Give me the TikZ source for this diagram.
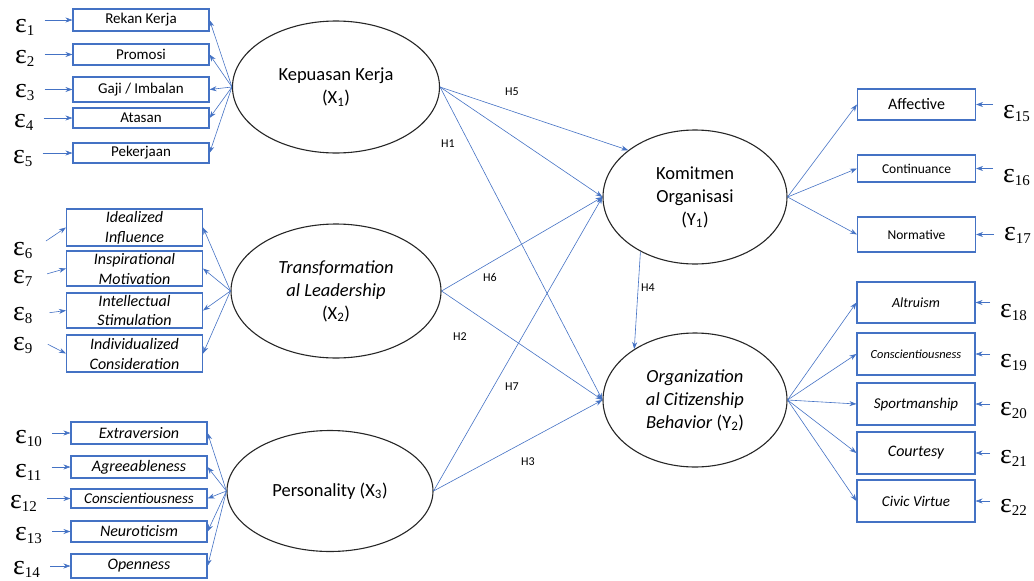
\documentclass[tikz,border=0pt]{standalone}
\usepackage{fontspec}
\setmainfont{Carlito}
\newfontfamily\epsfont{Liberation Serif}
\usetikzlibrary{arrows.meta,positioning,shapes}
\definecolor{lineblue}{HTML}{4472C4}
\newcommand{\err}[1]{{\epsfont\fontsize{28}{28}\selectfont ε\raisebox{-3pt}{\fontsize{15}{15}\selectfont #1}}}

\begin{document}
\begin{tikzpicture}
[->, >={Stealth[length=7pt,width=5pt]}, x=1pt, y=-1pt,
every edge/.style={draw=lineblue, line width=0.6pt},
latent/.style={ellipse, draw=black!85, line width=1.1pt, inner sep=0pt, align=center, font=\fontsize{18.5}{23}\selectfont},
indicator/.style={rectangle, draw=lineblue, line width=1.1pt, inner sep=0pt, align=center, font=\fontsize{15}{19.5}\selectfont},
leftbox/.style={indicator, minimum width=136pt},
rightbox/.style={indicator, minimum width=118pt},
error/.style={inner sep=0pt, anchor=base west},
errarrow/.style={shorten <=10pt},
hlabel/.style={font=\fontsize{12}{12}\selectfont}
]
  \useasboundingbox (0,0) rectangle (1034,581);

  % latent variables
  \node[latent, minimum width=207pt, minimum height=132pt] (x1) at (336,87) {Kepuasan Kerja\\(X\textsubscript{1})};
  \node[latent, minimum width=210pt, minimum height=134pt] (x2) at (336,291) {\textit{Transformation}\\\textit{al Leadership}\\(X\textsubscript{2})};
  \node[latent, minimum width=206pt, minimum height=121pt] (x3) at (330,491) {Personality (X\textsubscript{3})};
  \node[latent, minimum width=184pt, minimum height=134pt] (y1) at (695,197) {Komitmen\\Organisasi\\(Y\textsubscript{1})};
  \node[latent, minimum width=184pt, minimum height=134pt] (y2) at (695,400) {\textit{Organization}\\\textit{al Citizenship}\\\textit{Behavior} (Y\textsubscript{2})};

  % indicators
  \node[leftbox, minimum height=22pt] (i1) at (141,20)   {Rekan Kerja};
  \node[leftbox, minimum height=21pt] (i2) at (141,54.5) {Promosi};
  \node[leftbox, minimum height=25pt] (i3) at (141,89.5) {Gaji / Imbalan};
  \node[leftbox, minimum height=20pt] (i4) at (141,118)  {Atasan};
  \node[leftbox, minimum height=20pt] (i5) at (141,153)  {Pekerjaan};

  \node[leftbox, minimum height=37pt, font=\fontsize{16}{20}\itshape] (i6) at (134.5,227.5) {Idealized\\Influence};
  \node[leftbox, minimum height=35pt, font=\fontsize{16}{20}\itshape] (i7) at (134.5,268.5) {Inspirational\\Motivation};
  \node[leftbox, minimum height=35pt, font=\fontsize{16}{20}\itshape] (i8) at (134.5,310.5) {Intellectual\\Stimulation};
  \node[leftbox, minimum height=37pt, font=\fontsize{16}{20}\itshape] (i9) at (134.5,353.5) {Individualized\\Consideration};

  \node[leftbox, minimum height=22pt, font=\fontsize{16}{19}\itshape] (i10) at (139,433)   {Extraversion};
  \node[leftbox, minimum height=22pt, font=\fontsize{16}{19}\itshape] (i11) at (139,467)   {Agreeableness};
  \node[leftbox, minimum height=19pt, font=\fontsize{15}{19}\itshape] (i12) at (139,498.5) {Conscientiousness};
  \node[leftbox, minimum height=21pt, font=\fontsize{16}{19}\itshape] (i13) at (139,531.5) {Neuroticism};
  \node[leftbox, minimum height=24pt, font=\fontsize{16}{19}\itshape] (i14) at (139,566)   {Openness};

  \node[rightbox, minimum height=31pt, font=\fontsize{16}{19}\selectfont] (i15) at (916.5,104.5) {Affective};
  \node[rightbox, minimum height=27pt, font=\fontsize{13.5}{19}\selectfont] (i16) at (916.5,168.5) {Continuance};
  \node[rightbox, minimum height=35pt, font=\fontsize{13.5}{19}\selectfont] (i17) at (916.5,234.5) {Normative};

  \node[rightbox, minimum height=41pt, font=\fontsize{14}{19}\itshape] (i18) at (916,302.5) {Altruism};
  \node[rightbox, minimum height=42pt, font=\fontsize{12.4}{19}\itshape] (i19) at (916,354) {Conscientiousness};
  \node[rightbox, minimum height=42pt, font=\fontsize{15}{19}\itshape] (i20) at (916,404) {Sportmanship};
  \node[rightbox, minimum height=42pt, font=\fontsize{16}{19}\itshape] (i21) at (916,453) {Courtesy};
  \node[rightbox, minimum height=42pt, font=\fontsize{15}{19}\itshape] (i22) at (916,501) {Civic Virtue};

  % error terms
  \node[error] (e1)  at (15,32)  {\err{1}};
  \node[error] (e2)  at (15,63)  {\err{2}};
  \node[error] (e3)  at (15,97)  {\err{3}};
  \node[error] (e4)  at (14,127) {\err{4}};
  \node[error] (e5)  at (13,163) {\err{5}};
  \node[error] (e6)  at (13,255) {\err{6}};
  \node[error] (e7)  at (13,283) {\err{7}};
  \node[error] (e8)  at (13,320) {\err{8}};
  \node[error] (e9)  at (13,350) {\err{9}};
  \node[error] (e10) at (15,443) {\err{10}};
  \node[error] (e11) at (15,477) {\err{11}};
  \node[error] (e12) at (10,508) {\err{12}};
  \node[error] (e13) at (15,540) {\err{13}};
  \node[error] (e14) at (13,574) {\err{14}};
  \node[error] (e15) at (1003,118) {\err{15}};
  \node[error] (e16) at (1003,182) {\err{16}};
  \node[error] (e17) at (1004,240) {\err{17}};
  \node[error] (e18) at (1000,317) {\err{18}};
  \node[error] (e19) at (1000,367) {\err{19}};
  \node[error] (e20) at (1000,415) {\err{20}};
  \node[error] (e21) at (1000,463) {\err{21}};
  \node[error] (e22) at (1000,512) {\err{22}};

  % hypothesis labels
  \node[hlabel] (h1) at (448,144) {H1};
  \node[hlabel] (h2) at (460,337) {H2};
  \node[hlabel] (h3) at (528,462) {H3};
  \node[hlabel] (h4) at (648,288) {H4};
  \node[hlabel] (h5) at (512,92)  {H5};
  \node[hlabel] (h6) at (490,277) {H6};
  \node[hlabel] (h7) at (512,387) {H7};

  % structural paths
  \path (x1.east) edge (y1.145)
        (x1.east) edge (y1.west)
        (x1.east) edge (y2.west)
        (x2.east) edge (y1.west)
        (x2.east) edge (y2.west)
        (x3.east) edge (y1.west)
        (x3.east) edge (y2.west)
        (y1.225)  edge (y2.140);

  % loadings
  \path (x1.west) edge (i1.east)
        (x1.west) edge (i2.east)
        (x1.west) edge (i3.east)
        (x1.west) edge (i4.east)
        (x1.west) edge (i5.east)
        (x2.west) edge (i6.east)
        (x2.west) edge (i7.east)
        (x2.west) edge (i8.east)
        (x2.west) edge (i9.east)
        (x3.west) edge (i10.east)
        (x3.west) edge (i11.east)
        (x3.west) edge (i12.east)
        (x3.west) edge (i13.east)
        (x3.west) edge (i14.east)
        (y1.east) edge (i15.west)
        (y1.east) edge (i16.west)
        (y1.east) edge (i17.west)
        (y2.east) edge (i18.west)
        (y2.east) edge (i19.west)
        (y2.east) edge (i20.west)
        (y2.east) edge (i21.west)
        (y2.east) edge (i22.west);

  % errors to indicators
  \path (e1.east |- i1)   edge[errarrow] (i1.west)
        (e2.east |- i2)   edge[errarrow] (i2.west)
        (e3.east |- i3)   edge[errarrow] (i3.west)
        (e4.east |- i4)   edge[errarrow] (i4.west)
        (e5.east |- i5)   edge[errarrow] (i5.west)
        (e6.east)         edge[shorten <=16pt] (i6.west)
        (e7.east)         edge[shorten <=15pt] (i7.west)
        (e8.east)         edge[shorten <=17pt] (i8.west)
        (e9.north east)   edge[shorten <=17pt] (i9.west)
        (e10.east |- i10) edge[errarrow] (i10.west)
        (e11.east |- i11) edge[errarrow] (i11.west)
        (e12.east |- i12) edge[errarrow] (i12.west)
        (e13.east |- i13) edge[errarrow] (i13.west)
        (e14.east |- i14) edge[errarrow] (i14.west)
        (e15.west |- i15) edge[errarrow] (i15.east)
        (e16.west |- i16) edge[errarrow] (i16.east)
        (e17.west |- i17) edge[errarrow] (i17.east)
        (e18.west |- i18) edge[errarrow] (i18.east)
        (e19.west |- i19) edge[errarrow] (i19.east)
        (e20.west |- i20) edge[errarrow] (i20.east)
        (e21.west |- i21) edge[errarrow] (i21.east)
        (e22.west |- i22) edge[errarrow] (i22.east);
\end{tikzpicture}
\end{document}
